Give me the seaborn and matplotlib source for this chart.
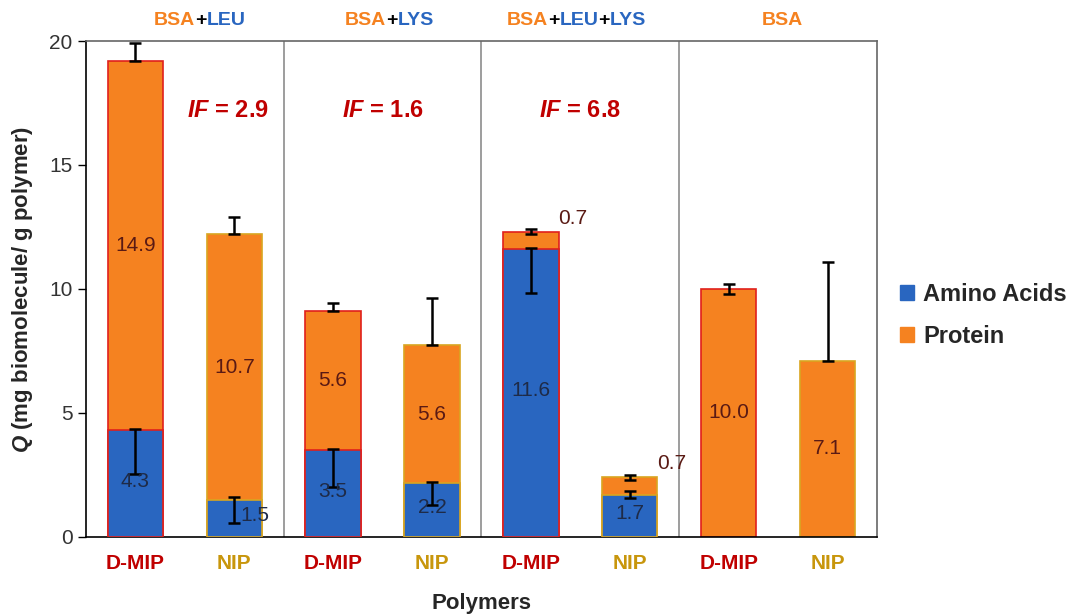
import matplotlib
matplotlib.use("Agg")
import matplotlib.pyplot as plt
from matplotlib.offsetbox import AnnotationBbox, HPacker, TextArea
from matplotlib.patches import Patch
import numpy as np
import pandas as pd
import seaborn as sns

sns.set_style("white")
plt.rcParams.update({
    "font.family": ["Liberation Sans", "DejaVu Sans"],
    "mathtext.fontset": "custom",
    "mathtext.it": "Liberation Sans:italic",
    "mathtext.bf": "Liberation Sans:bold",
    "mathtext.bfit": "Liberation Sans:bold:italic",
})

# data
GROUPS = ["BSA+LEU", "BSA+LYS", "BSA+LEU+LYS", "BSA"]
POLYMERS = ["D-MIP", "NIP"] * 4
AMINO = [4.3, 1.5, 3.5, 2.17, 11.6, 1.7, 0.0, 0.0]
PROTEIN = [14.9, 10.7, 5.6, 5.56, 0.7, 0.7, 10.0, 7.1]
AMINO_ERR_LO = [1.75, 0.95, 1.5, 0.9, 1.75, 0.15, 0.0, 0.0]
AMINO_ERR_HI = [0.05, 0.1, 0.05, 0.05, 0.05, 0.15, 0.0, 0.0]
PROTEIN_ERR_LO = [0.0, 0.0, 0.0, 0.0, 0.1, 0.1, 0.2, 0.0]
PROTEIN_ERR_HI = [0.7, 0.7, 0.35, 1.9, 0.1, 0.1, 0.2, 4.0]
IF_VALUES = [2.9, 1.6, 6.8]

BLUE = "#2966C0"
ORANGE = "#F58220"
RED = "#C00000"
GOLD = "#C8960C"
EDGE = {"D-MIP": "#E0201C", "NIP": "#D9A520"}
TICK_COL = {"D-MIP": RED, "NIP": GOLD}

df = pd.DataFrame({
    "key": [f"{g}|{p}" for g in GROUPS for p in ["D-MIP", "NIP"]],
    "polymer": POLYMERS,
    "amino": AMINO,
    "protein": PROTEIN,
})
df["total"] = df["amino"] + df["protein"]
order = list(df["key"])

fig = plt.figure(figsize=(10.74, 6.15), dpi=100)
ax = fig.add_axes([0.080, 0.127, 0.7366, 0.8063])

sns.barplot(data=df, x="key", y="total", order=order, color=ORANGE, width=0.56,
            saturation=1, ax=ax, linewidth=1.2, zorder=2)
sns.barplot(data=df, x="key", y="amino", order=order, color=BLUE, width=0.56,
            saturation=1, ax=ax, linewidth=1.2, zorder=3)
for i, patch in enumerate(ax.patches):
    patch.set_edgecolor(EDGE[POLYMERS[i % len(order)]])
    if i >= len(order) and AMINO[i - len(order)] == 0:
        patch.set_visible(False)

x = np.arange(len(order))
has_amino = df["amino"] > 0
ax.errorbar(x[has_amino], df["amino"][has_amino],
            yerr=[np.array(AMINO_ERR_LO)[has_amino], np.array(AMINO_ERR_HI)[has_amino]],
            fmt="none", ecolor="black", elinewidth=1.8, capsize=4, capthick=1.8, zorder=4)
ax.errorbar(x, df["total"], yerr=[PROTEIN_ERR_LO, PROTEIN_ERR_HI], fmt="none",
            ecolor="black", elinewidth=1.8, capsize=4, capthick=1.8, zorder=4)

# value labels
AMINO_COL = "#1E2B48"
PROT_COL = "#5A1A14"
VAL_FS = 15
for i, row in df.iterrows():
    if row["amino"] > 0:
        dx = 0.21 if (row["amino"] < 1.6 and row["protein"] > 5) else 0
        ax.text(i + dx, row["amino"] / 2 + 0.1, f"{row['amino']:.1f}", ha="center",
                va="center", fontsize=VAL_FS, color=AMINO_COL, zorder=5)
    if row["protein"] < 1:
        ax.text(i + 0.42, row["total"] + 0.55, f"{row['protein']:.1f}", ha="center",
                va="center", fontsize=VAL_FS, color=PROT_COL, zorder=5)
    else:
        ax.text(i, row["amino"] + row["protein"] / 2, f"{row['protein']:.1f}", ha="center",
                va="center", fontsize=VAL_FS, color=PROT_COL, zorder=5)

# group separators
for b in [1.5, 3.5, 5.5]:
    ax.axvline(b, color="0.55", lw=1.2, zorder=1)

# IF annotations
for xpos, val in zip([0.94, 2.5, 4.5], IF_VALUES):
    ax.text(xpos, 17.2, rf"$\mathbfit{{IF}}$ = {val:.1f}", ha="center", va="center",
            fontsize=17, fontweight="bold", color=RED)

# group titles above the axes
title_parts = {
    "BSA+LEU": [("BSA", ORANGE), ("+", "black"), ("LEU", BLUE)],
    "BSA+LYS": [("BSA", ORANGE), ("+", "black"), ("LYS", BLUE)],
    "BSA+LEU+LYS": [("BSA", ORANGE), ("+", "black"), ("LEU", BLUE), ("+", "black"), ("LYS", BLUE)],
    "BSA": [("BSA", ORANGE)],
}
for xpos, g in zip([0.65, 2.57, 4.46, 6.54], GROUPS):
    box = HPacker(children=[TextArea(t, textprops=dict(color=c, fontsize=14, fontweight="bold"))
                            for t, c in title_parts[g]], pad=0, sep=0, align="baseline")
    ab = AnnotationBbox(box, (xpos, 1.042), xycoords=("data", "axes fraction"),
                        frameon=False, box_alignment=(0.5, 0.5), annotation_clip=False)
    ax.add_artist(ab)

ax.set_xlim(-0.5, 7.5)
ax.set_ylim(0, 20)
ax.set_yticks([0, 5, 10, 15, 20])
ax.tick_params(axis="y", labelsize=15, direction="out", length=6, width=1, left=True,
               colors="black", labelcolor="#333333")
ax.tick_params(axis="x", length=0, pad=12)
ax.set_xticks(x)
ax.set_xticklabels(POLYMERS, fontsize=15, fontweight="bold")
for lbl, p in zip(ax.get_xticklabels(), POLYMERS):
    lbl.set_color(TICK_COL[p])

for side in ["left", "bottom"]:
    ax.spines[side].set_color("black")
    ax.spines[side].set_linewidth(1.2)
for side in ["top", "right"]:
    ax.spines[side].set_color("0.4")
    ax.spines[side].set_linewidth(1.2)

ax.set_xlabel("Polymers", fontsize=16, fontweight="bold", labelpad=15)
ax.set_ylabel(r"$\mathbfit{Q}$ (mg biomolecule/ g polymer)", fontsize=16,
              fontweight="bold", labelpad=10)

handles = [Patch(facecolor=BLUE, edgecolor=BLUE, label="Amino Acids"),
           Patch(facecolor=ORANGE, edgecolor=ORANGE, label="Protein")]
fig.legend(handles=handles, loc="center left", bbox_to_anchor=(0.818, 0.487),
           frameon=False, prop=dict(size=17, weight="bold"), handlelength=0.6,
           handleheight=0.6, handletextpad=0.4, labelspacing=0.8)

fig.savefig("out.png", dpi=100)
